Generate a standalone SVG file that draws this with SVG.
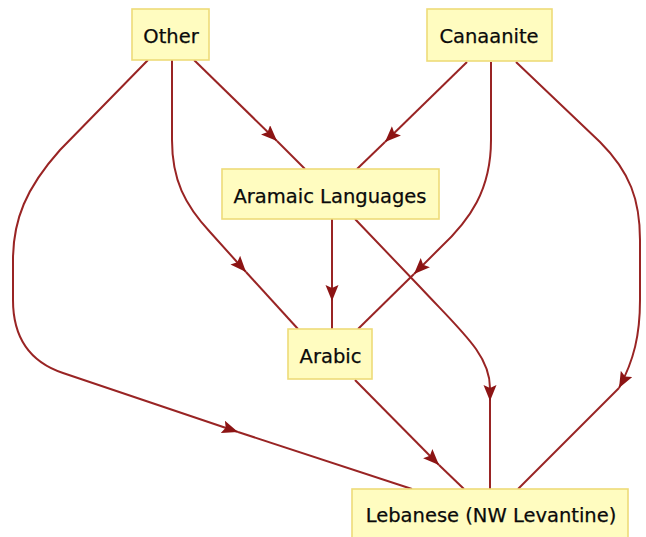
<svg xmlns="http://www.w3.org/2000/svg" width="646" height="537" viewBox="0 0 646 537">
<style>
.box{fill:#fffcc0;stroke:#eedb78;stroke-width:1.6}
.lbl{font-family:"DejaVu Sans",Verdana,sans-serif;font-size:19.5px;fill:#0a0a0a;text-anchor:middle;stroke:#0a0a0a;stroke-width:0.25}
.e{fill:none;stroke:#992424;stroke-width:2}
.a{marker-end:url(#arr)}
</style>
<defs>
<marker id="arr" markerUnits="userSpaceOnUse" markerWidth="18" markerHeight="14" refX="16" refY="6.5" orient="auto">
<path d="M0,0 L16,6.5 L0,13 L3,6.5 z" fill="#8c1414"/>
</marker>
</defs>
<rect width="646" height="537" fill="#ffffff"/>
<g id="connectors">
<!-- Other -> Aramaic -->
<path class="e a" d="M194,60 L277,141"/>
<path class="e" d="M277,141 L305,169"/>
<!-- Canaanite -> Aramaic -->
<path class="e a" d="M467,62 L385,142"/>
<path class="e" d="M385,142 L357,169"/>
<!-- Other -> Arabic -->
<path class="e a" d="M172,60 L172,140 C172,180 185,205 210,232 L246,272"/>
<path class="e" d="M246,272 L298,329"/>
<!-- Canaanite -> Arabic -->
<path class="e a" d="M491,62 L491,140 C491,190 470,220 440,248 L414,274"/>
<path class="e" d="M414,274 L358,329"/>
<!-- Aramaic -> Arabic -->
<path class="e a" d="M332,219 L332,301"/>
<path class="e" d="M332,301 L332,329"/>
<!-- Other -> Lebanese -->
<path class="e a" d="M148,60 L60,150 C26,188 13,220 13,260 L13,300 C13,338 30,362 63,373 L238,432"/>
<path class="e" d="M238,432 L412,489"/>
<!-- Aramaic -> Lebanese -->
<path class="e a" d="M355,219 L420,287 C462,332 490,355 490,388 L490,401"/>
<path class="e" d="M490,401 L490,489"/>
<!-- Canaanite -> Lebanese -->
<path class="e a" d="M516,62 L600,142 C630,172 640,200 640,240 L640,300 C640,335 634,360 619,388"/>
<path class="e" d="M619,388 L518,489"/>
<!-- Arabic -> Lebanese -->
<path class="e a" d="M355,380 L439,465"/>
<path class="e" d="M439,465 L464,489"/>
</g>
<g id="node-other">
<rect class="box" x="132" y="9" width="77" height="51"/>
<text class="lbl" x="171" y="43">Other</text>
</g>
<g id="node-canaanite">
<rect class="box" x="427" y="9" width="125" height="52"/>
<text class="lbl" x="489" y="43">Canaanite</text>
</g>
<g id="node-aramaic">
<rect class="box" x="222" y="169" width="217" height="50"/>
<text class="lbl" x="330" y="203">Aramaic Languages</text>
</g>
<g id="node-arabic">
<rect class="box" x="288" y="329" width="84" height="50"/>
<text class="lbl" x="330.5" y="363">Arabic</text>
</g>
<g id="node-lebanese">
<rect class="box" x="352" y="489" width="276" height="50"/>
<text class="lbl" x="491" y="522">Lebanese (NW Levantine)</text>
</g>
</svg>
